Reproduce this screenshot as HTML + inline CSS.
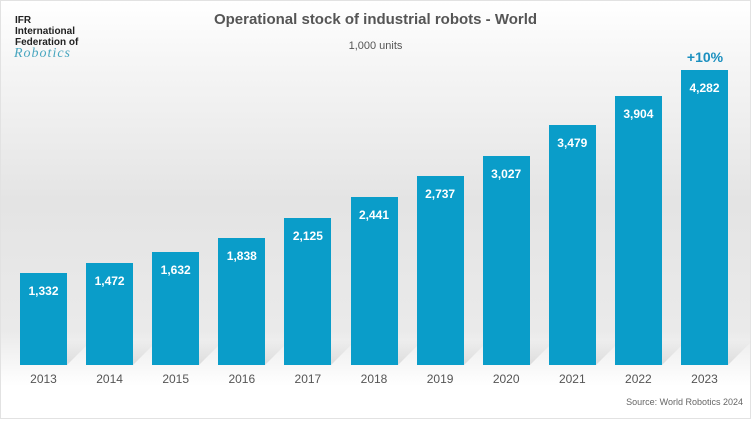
<!DOCTYPE html>
<html><head><style>
body{margin:0;width:751px;height:421px;overflow:hidden;font-family:"Liberation Sans",Arial,sans-serif;}
.bg{position:absolute;left:0;top:0;width:749px;height:417px;border:1px solid #e2e2e2;background:linear-gradient(#fff 0px,#f6f6f6 60px,#e4e4e4 200px,#eaeaea 330px,#fff 385px,#fff 417px);}
.bar{position:absolute;width:47px;background:#0a9dc9;}
.v{position:absolute;width:47px;text-align:center;color:#fff;font-weight:bold;font-size:12px;}
.y{position:absolute;width:60px;text-align:center;color:#555;font-size:12px;top:372px;}
.sh{position:absolute;height:25px;width:40px;background:linear-gradient(rgba(180,180,180,0),rgba(170,170,170,.35));transform:skewX(-45deg);transform-origin:bottom left;}
</style></head><body>
<div class="bg"></div>
<div style="position:absolute;left:15px;top:15px;font-size:10px;font-weight:bold;color:#222;line-height:11px;">IFR<br>International<br>Federation of</div>
<div style="position:absolute;left:14px;top:46px;font-size:14px;font-style:italic;color:#4aa7c0;font-family:'Liberation Serif',serif;letter-spacing:1px;">Robotics</div>
<div style="position:absolute;left:0;width:751px;top:11px;text-align:center;font-size:15px;font-weight:bold;color:#555;">Operational stock of industrial robots - World</div>
<div style="position:absolute;left:0;width:751px;top:40px;text-align:center;font-size:11px;color:#555;">1,000 units</div>
<div style="position:absolute;left:675px;width:60px;top:49px;text-align:center;font-size:14px;font-weight:bold;color:#1a8fbf;">+10%</div>
<div style="position:absolute;right:8px;top:397px;font-size:9px;color:#666;">Source: World Robotics 2024</div>
<div id="c"></div>
<script>
var d=[1332,1472,1632,1838,2125,2441,2737,3027,3479,3904,4282],h='';
for(var i=0;i<11;i++){var x=20+i*66.1;
h+='<div class="sh" style="left:'+(x+7)+'px;top:340px"></div>';}
for(var i=0;i<11;i++){var x=20+i*66.1,t=365-d[i]*0.0690;
h+='<div class="bar" style="left:'+x+'px;top:'+t+'px;height:'+(365-t)+'px"></div>';
h+='<div class="v" style="left:'+x+'px;top:'+(t+11)+'px">'+d[i].toLocaleString('en-US')+'</div>';
h+='<div class="y" style="left:'+(x-6.5)+'px">'+(2013+i)+'</div>';}
document.getElementById('c').innerHTML=h;
</script>
</body></html>
